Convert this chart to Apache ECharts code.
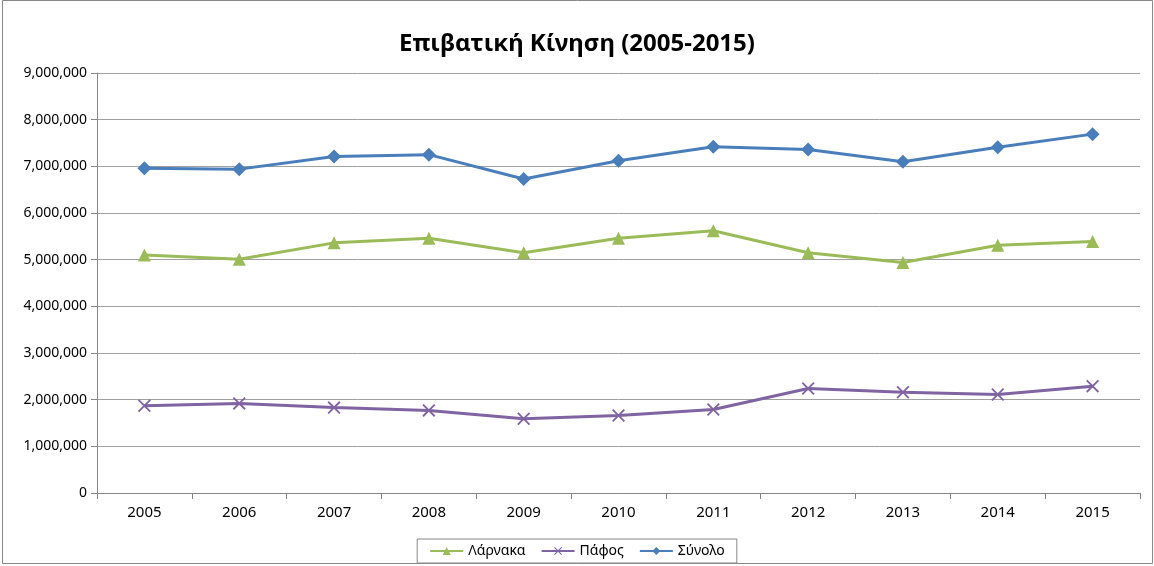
<!DOCTYPE html>
<html>
<head>
<meta charset="utf-8">
<script src="https://cdn.jsdelivr.net/npm/echarts@6/dist/echarts.min.js"></script>
<style>
    html, body { margin: 0; padding: 0; background: #fff; }
    #chart { width: 1154px; height: 566px; }
</style>
</head>
<body>
<div id="chart"></div>
<script>
const years = ['2005', '2006', '2007', '2008', '2009', '2010', '2011', '2012', '2013', '2014', '2015'];
const larnaka = [5100000, 5010000, 5360000, 5460000, 5150000, 5460000, 5620000, 5150000, 4940000, 5310000, 5390000];
const pafos = [1870000, 1920000, 1830000, 1770000, 1590000, 1660000, 1790000, 2240000, 2160000, 2110000, 2290000];
const synolo = [6960000, 6940000, 7210000, 7250000, 6730000, 7120000, 7420000, 7360000, 7100000, 7410000, 7690000];

const font = 'Noto Sans, DejaVu Sans, sans-serif';
const crossPath = 'path://M0,1L1,0L10,9L9,10Z M9,0L10,1L1,10L0,9Z';

const chart = echarts.init(document.getElementById('chart'));

// helper for thousands separators
function fmt(v) {
    return String(v).replace(/\B(?=(\d{3})+(?!\d))/g, ',');
}

const option = {
    animation: false,
    backgroundColor: '#fff',
    title: {
        text: 'Επιβατική Κίνηση (2005-2015)',
        left: 'center',
        top: 27,
        textStyle: { fontFamily: font, fontSize: 24, fontWeight: 'bold', color: '#000' }
    },
    legend: {
        bottom: 3,
        left: 'center',
        itemWidth: 33,
        itemHeight: 10,
        itemGap: 15,
        padding: [5, 12, 5, 12],
        borderColor: '#888',
        borderWidth: 1,
        textStyle: { fontFamily: font, fontSize: 14, color: '#000' },
        data: ['Λάρνακα', 'Πάφος', 'Σύνολο']
    },
    grid: { left: 97, right: 14, top: 73, bottom: 73 },
    xAxis: {
        type: 'category',
        data: years,
        boundaryGap: true,
        axisLine: { lineStyle: { color: '#868686', width: 1 } },
        axisTick: { show: true, length: 6, lineStyle: { color: '#868686' } },
        axisLabel: { fontFamily: font, fontSize: 15, color: '#000', margin: 12 }
    },
    yAxis: {
        type: 'value',
        min: 0,
        max: 9000000,
        interval: 1000000,
        axisLine: { show: true, lineStyle: { color: '#868686', width: 1 } },
        axisTick: { show: true, length: 6, lineStyle: { color: '#868686' } },
        splitLine: { lineStyle: { color: '#a0a0a0', width: 1 } },
        axisLabel: { fontFamily: font, fontSize: 14, color: '#000', margin: 10, formatter: fmt }
    },
    graphic: [{
        type: 'rect',
        shape: { x: 2.5, y: 0.5, width: 1150, height: 563 },
        style: { fill: 'none', stroke: '#888', lineWidth: 1 },
        silent: true
    }],
    series: [
        {
            name: 'Λάρνακα',
            type: 'line',
            data: larnaka,
            color: '#9BBB59',
            symbol: 'triangle',
            symbolSize: 13,
            lineStyle: { width: 3 }
        },
        {
            name: 'Πάφος',
            type: 'line',
            data: pafos,
            color: '#8064A2',
            symbol: crossPath,
            symbolSize: 13,
            lineStyle: { width: 3 }
        },
        {
            name: 'Σύνολο',
            type: 'line',
            data: synolo,
            color: '#4A7EBB',
            symbol: 'diamond',
            symbolSize: 14,
            lineStyle: { width: 3 }
        }
    ]
};

chart.setOption(option);
</script>
</body>
</html>
